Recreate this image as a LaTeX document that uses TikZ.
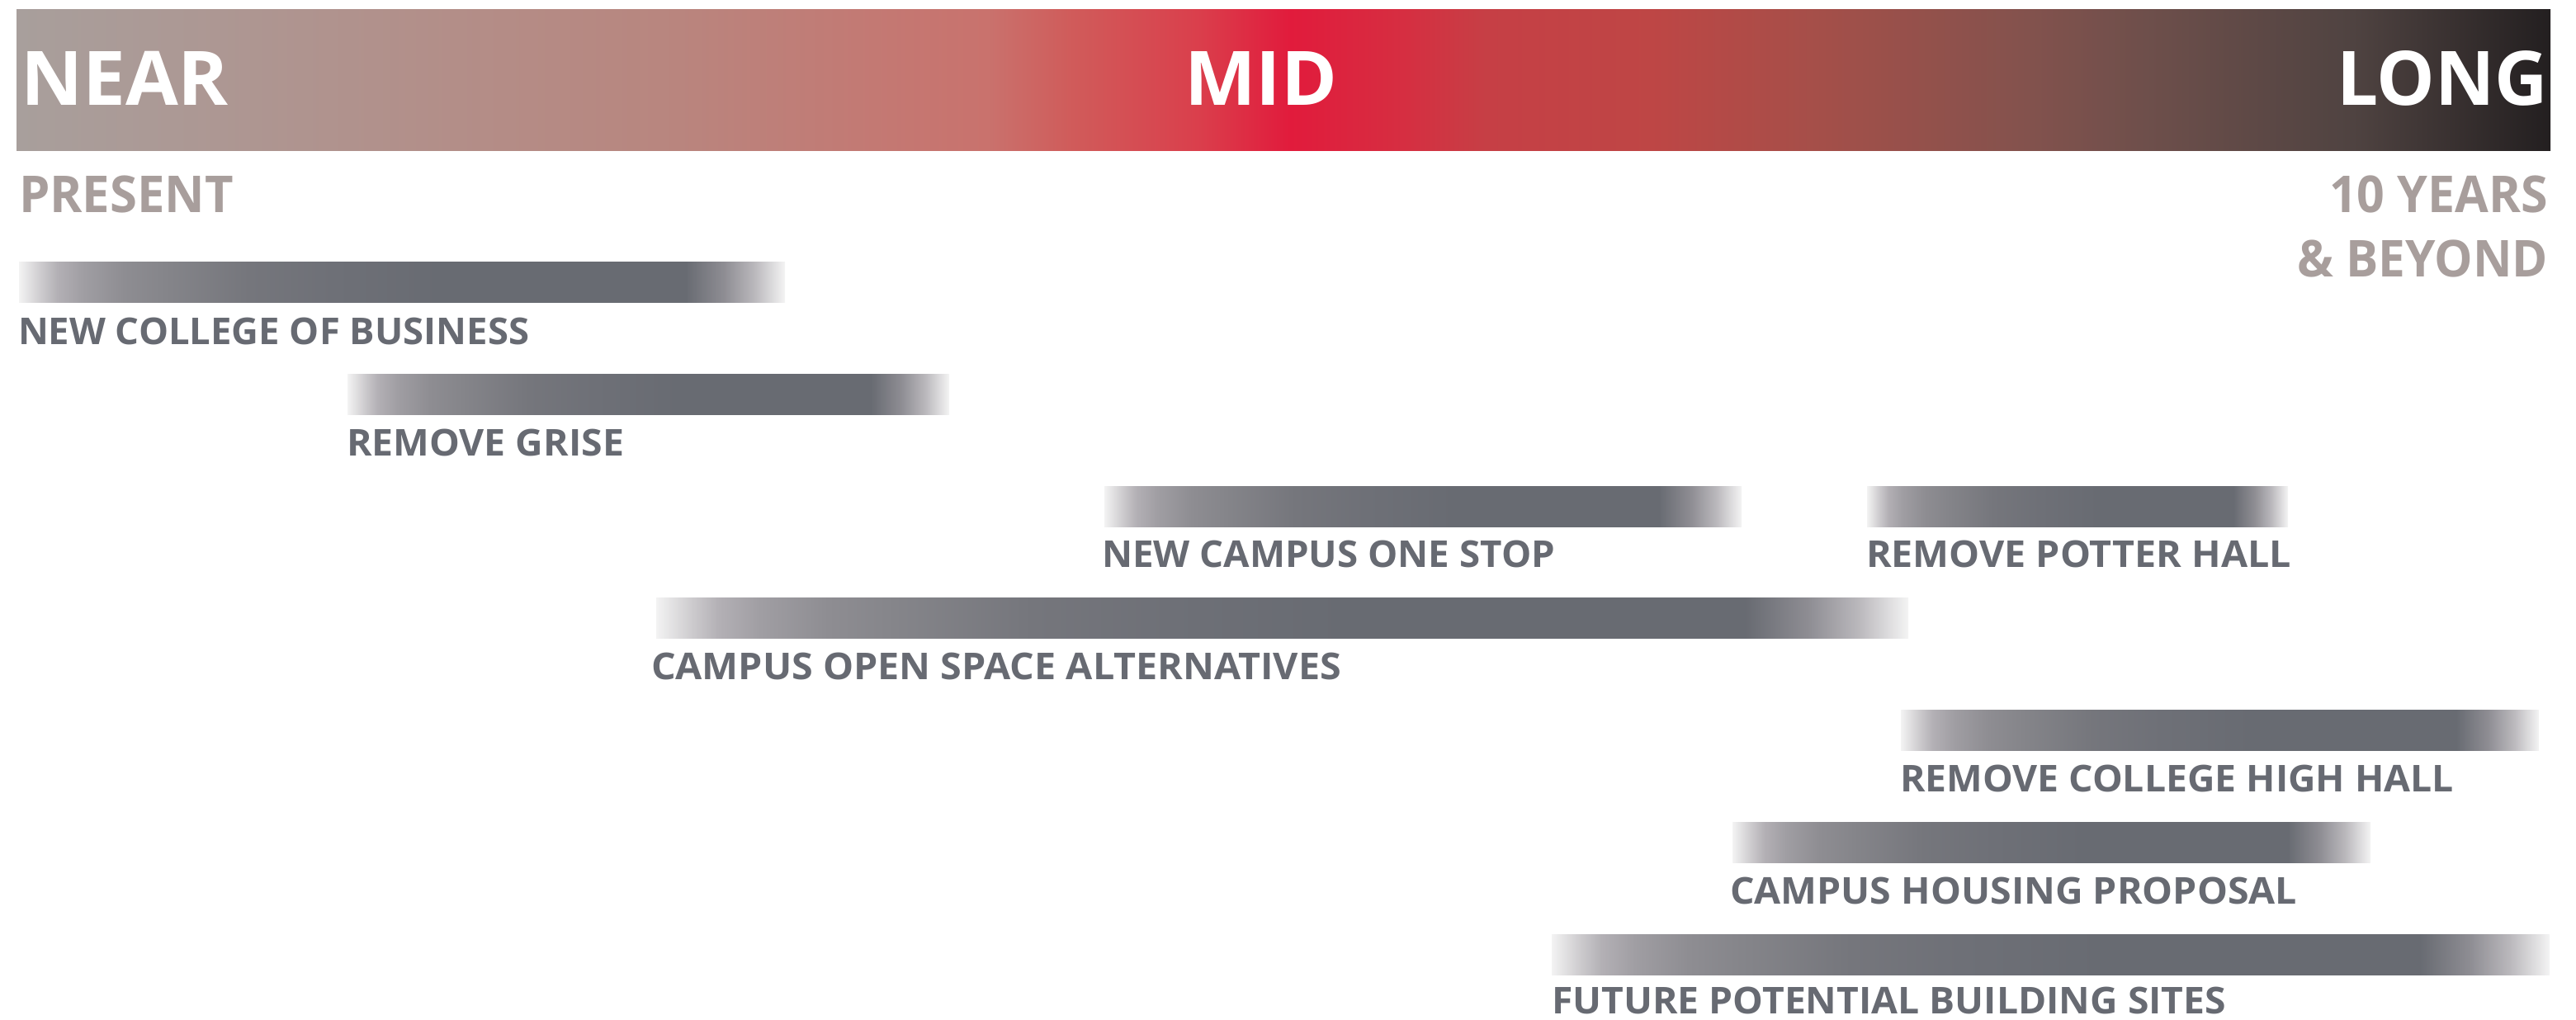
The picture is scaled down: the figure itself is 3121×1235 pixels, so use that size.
\documentclass[tikz,border=0pt]{standalone}
\usepackage{graphicx}
\usepackage{fontspec}
\setmainfont{Open Sans}
\definecolor{taupe}{HTML}{A89E9C}
\definecolor{labelgrey}{HTML}{676A72}
% top bar colours
\definecolor{ta}{HTML}{A89F9C}
\definecolor{tb}{HTML}{B8867F}
\definecolor{tc}{HTML}{C9726D}
\definecolor{td}{HTML}{D05B5A}
\definecolor{te}{HTML}{DA3F4C}
\definecolor{tf}{HTML}{E11B3C}
\definecolor{tg}{HTML}{D62E41}
\definecolor{th}{HTML}{C63F45}
\definecolor{ti}{HTML}{BE4645}
\definecolor{tj}{HTML}{A54F49}
\definecolor{tk}{HTML}{84524D}
\definecolor{tl}{HTML}{6E4F4B}
\definecolor{tm}{HTML}{4F4341}
\definecolor{tn}{HTML}{231F20}
% bar colours
\definecolor{ba}{HTML}{F3F3F3}
\definecolor{bb}{HTML}{CBC9CC}
\definecolor{bc}{HTML}{B3B0B5}
\definecolor{bd}{HTML}{A09EA3}
\definecolor{be}{HTML}{8E8D92}
\definecolor{bf}{HTML}{85858A}
\definecolor{bg}{HTML}{75767C}
\definecolor{bh}{HTML}{6E7077}
\definecolor{bi}{HTML}{686B72}
\definecolor{bj}{HTML}{8E8D93}
\definecolor{bk}{HTML}{BAB8BC}
\definecolor{bl}{HTML}{F4F4F4}
\pgfdeclarehorizontalshading{topshade}{100bp}{color(0bp)=(ta); color(25bp)=(ta); color(37.7bp)=(tb); color(44.15bp)=(tc); color(45.85bp)=(td); color(48.3bp)=(te); color(50.15bp)=(tf); color(52.35bp)=(tg); color(54bp)=(th); color(57.25bp)=(ti); color(60.5bp)=(tj); color(64.55bp)=(tk); color(67bp)=(tl); color(71.1bp)=(tm); color(75bp)=(tn); color(100bp)=(tn)}
\pgfdeclarehorizontalshading{barshade}{100bp}{color(0bp)=(ba); color(25bp)=(ba); color(26.5bp)=(bb); color(27.5bp)=(bc); color(29.15bp)=(bd); color(31.85bp)=(be); color(34.5bp)=(bf); color(40bp)=(bg); color(45.5bp)=(bh); color(52.5bp)=(bi); color(68.5bp)=(bi); color(71bp)=(bj); color(73bp)=(bk); color(75bp)=(bl); color(100bp)=(bl)}
\newcommand\fitw[2]{\setbox0=\hbox{#2}\pgfmathsetmacro\fitratio{#1*0.25pt/\wd0}\scalebox{\fitratio}[1]{\box0}}
\newcommand\bigfont{\fontsize{22.76pt}{24pt}\selectfont\bfseries}
\newcommand\midfont{\fontsize{15.4pt}{17pt}\selectfont\bfseries}
\newcommand\smallfont{\fontsize{11.2pt}{13pt}\selectfont\bfseries}
\begin{document}
\begin{tikzpicture}[x=0.25pt,y=-0.25pt,
  txt/.style={inner sep=0pt, outer sep=0pt},
  head/.style={txt, text=white},
  sub/.style={txt, text=taupe},
  lbl/.style={txt, text=labelgrey, anchor=base west},
  barfill/.style={shading=barshade}]
\useasboundingbox (0,0) rectangle (3121,1235);
% top timeline bar
\shade[shading=topshade] (20,11) rectangle (3090,182);
\node[head, anchor=base west] (near) at (25,127) {\fitw{252}{\bigfont NEAR}};
\node[head, anchor=base west] (mid) at (1435,127) {\fitw{185}{\bigfont MID}};
\node[head, anchor=base east] (long) at (3087,127) {\fitw{256}{\bigfont LONG}};
\node[sub, anchor=base west] (present) at (23,257) {\fitw{260}{\midfont PRESENT}};
\node[sub, anchor=base east] (tenyears) at (3087,257) {\fitw{265}{\midfont 10 YEARS}};
\node[sub, anchor=base east] (beyond) at (3087,335) {\fitw{304}{\midfont \& BEYOND}};
% bars
\shade[barfill] (23,317) rectangle (951,366);
\shade[barfill] (421,453) rectangle (1150,502);
\shade[barfill] (1338,589) rectangle (2110,638);
\shade[barfill] (2262,589) rectangle (2772,638);
\shade[barfill] (795,724) rectangle (2312,773);
\shade[barfill] (2303,860) rectangle (3076,909);
\shade[barfill] (2099,996) rectangle (2872,1045);
\shade[barfill] (1880,1132) rectangle (3089,1181);
% labels
\node[lbl] (l1) at (22,417) {\fitw{619}{\smallfont NEW COLLEGE OF BUSINESS}};
\node[lbl] (l2) at (420,552) {\fitw{336}{\smallfont REMOVE GRISE}};
\node[lbl] (l3) at (1335,687) {\fitw{549}{\smallfont NEW CAMPUS ONE STOP}};
\node[lbl] (l3b) at (2261,687) {\fitw{515}{\smallfont REMOVE POTTER HALL}};
\node[lbl] (l4) at (789,823) {\fitw{836}{\smallfont CAMPUS OPEN SPACE ALTERNATIVES}};
\node[lbl] (l5) at (2302,959) {\fitw{671}{\smallfont REMOVE COLLEGE HIGH HALL}};
\node[lbl] (l6) at (2096,1095) {\fitw{687}{\smallfont CAMPUS HOUSING PROPOSAL}};
\node[lbl] (l7) at (1880,1228) {\fitw{817}{\smallfont FUTURE POTENTIAL BUILDING SITES}};
\end{tikzpicture}
\end{document}
